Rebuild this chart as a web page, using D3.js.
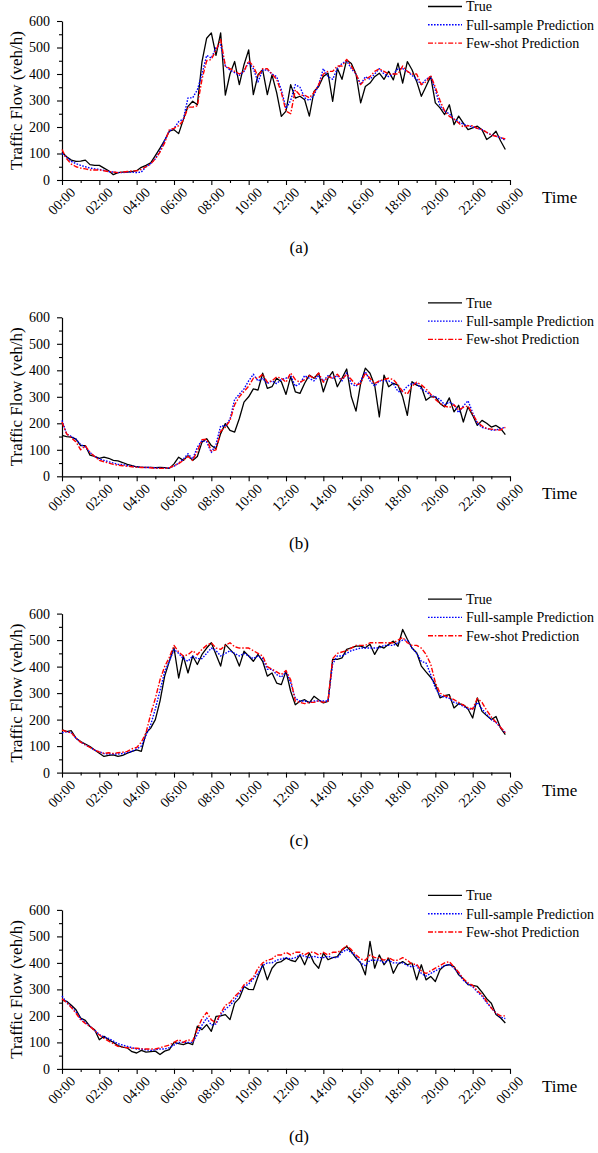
<!DOCTYPE html>
<html>
<head>
<meta charset="utf-8">
<script src="https://cdn.jsdelivr.net/npm/d3@7"></script>
<style>
  body { margin: 0; background: #fff; }
</style>
</head>
<body>
<svg id="chart" width="598" height="1153"></svg>
<script>
// samples every 15 minutes, 00:00 .. 23:45 (value = hour of day)
const hours = d3.range(96).map(i => i / 4);

// (a)
const trueA = [105,88,75,70, 71,75,58,55, 55,45,35,20, 28,30,30,32, 35,48,55,65, 92,120,150,184,
               190,175,228,278, 297,284,447,535, 555,470,555,320, 400,447,360,435, 491,322,397,416,
               322,397,330,240, 260,360,309,316, 303,241,334,353, 391,403,297,422, 380,453,440,400,
               291,353,366,390, 403,380,410,378, 441,366,447,416, 372,316,353,391, 291,272,247,284,
               209,241,215,190, 197,203,190,153, 165,184,147,115];
const fullA = [100,85,70,62, 55,50,45,42, 40,36,32,30, 28,28,30,30, 28,30,50,62, 80,110,150,185,
               195,220,230,310, 310,340,400,470, 460,500,510,430, 415,405,395,410, 445,420,370,415,
               415,400,390,340, 270,300,360,350, 310,300,320,360, 420,390,380,420, 440,450,420,400,
               360,390,380,400, 420,400,390,400, 420,420,410,395, 380,360,380,390, 340,280,260,250,
               230,220,210,205, 200,195,190,180, 170,165,160,150];
const fewA  = [115,80,60,50, 45,42,38,38, 38,35,32,30, 28,30,32,34, 35,40,50,60, 80,105,140,190,
               195,205,225,275, 275,280,380,450, 455,490,530,430, 420,410,400,410, 450,430,390,420,
               420,400,380,330, 260,250,340,320, 320,310,330,360, 400,410,410,430, 430,455,430,400,
               360,380,390,410, 420,410,400,400, 400,430,410,400, 400,360,370,395, 350,300,260,240,
               230,215,200,205, 205,195,190,180, 170,165,160,155];

// (b)
const trueB = [154,150,148,140, 116,116,80,75, 68,72,68,60, 58,52,45,40, 36,34,34,34, 33,34,33,30,
               47,72,60,78, 60,75,129,142, 116,104,161,199, 173,167,218,280, 300,330,325,389,
               332,338,370,357, 309,376,319,313, 351,382,370,389, 319,370,395,338, 370,405,300,246,
               351,408,389,344, 224,382,338,351, 344,300,230,357, 344,338,287,300, 300,275,262,296,
               243,268,205,262, 230,192,211,200, 186,192,180,157];
const fullB = [211,160,150,140, 120,110,90,75, 65,60,55,50, 45,45,40,38, 36,34,33,33, 32,31,30,32,
               38,50,65,85, 65,110,135,130, 90,120,190,190, 215,290,310,330, 360,385,360,370,
               350,360,350,365, 370,380,340,350, 380,370,360,380, 360,380,370,380, 360,390,350,340,
               360,395,360,340, 360,360,360,350, 320,320,340,350, 350,330,320,305, 300,290,270,280,
               270,240,265,285, 240,200,185,180, 175,175,180,185];
const fewB  = [205,160,145,130, 100,115,90,75, 60,55,50,45, 42,40,38,36, 34,33,33,32, 30,30,30,32,
               40,48,60,75, 60,95,138,140, 95,100,170,185, 210,270,300,320, 340,370,370,385,
               355,360,375,370, 355,390,365,355, 365,380,370,390, 355,375,370,385, 365,385,365,345,
               350,390,370,350, 360,365,370,365, 345,320,310,340, 355,345,330,310, 290,275,265,260,
               270,250,260,265, 235,205,190,180, 178,175,175,185];

// (c)
const trueC = [162,155,158,130, 117,108,98,85, 73,61,65,67, 61,65,73,80, 86,80,149,168, 200,270,364,420,
               471,357,440,376, 440,408,446,470, 490,446,402,484, 465,446,402,458, 440,420,446,420,
               364,376,338,332, 383,307,256,269, 275,263,288,275, 263,269,427,427, 433,465,471,477,
               477,471,484,446, 477,470,484,496, 477,540,503,470, 452,402,380,360, 332,282,290,294,
               244,260,256,240, 206,282,231,215, 200,212,168,143];
const fullC = [150,155,150,130, 115,105,95,85, 78,72,70,70, 70,72,76,80, 90,100,140,180, 240,310,380,420,
               465,450,430,420, 440,430,430,450, 470,460,440,450, 460,450,440,450, 440,430,440,430,
               390,390,370,360, 380,340,280,270, 270,265,270,270, 270,270,410,440, 440,450,460,465,
               470,470,470,470, 470,480,480,480, 490,500,500,470, 450,420,414,370, 320,290,285,280,
               265,260,250,240, 240,265,240,220, 200,190,170,150];
const fewC  = [160,155,150,130, 115,105,95,85, 78,72,75,72, 75,77,80,90, 95,115,150,220, 280,350,400,435,
               480,455,440,445, 460,445,465,480, 490,470,465,480, 490,475,470,470, 470,460,450,440,
               400,390,380,370, 385,350,270,265, 260,265,265,270, 265,270,430,450, 455,460,470,480,
               480,480,490,490, 490,490,490,490, 500,510,490,480, 480,470,446,410, 340,300,290,285,
               275,265,255,245, 240,280,265,235, 210,190,170,150];

// (d)
const trueD = [260,255,240,223, 192,183,160,148, 110,123,110,100, 88,82,79,65, 60,70,63,65, 67,54,67,73,
               100,95,92,98, 92,161,148,167, 142,198,200,205, 186,248,267,311, 300,299,349,393,
               336,380,400,405, 418,410,405,430, 393,437,400,380, 437,412,420,424, 449,462,443,418,
               400,355,481,380, 430,393,418,361, 395,405,393,399, 336,393,336,349, 330,374,390,393,
               386,355,340,318, 315,311,290,265, 248,205,192,173];
const fullD = [275,250,235,215, 190,175,160,145, 130,120,115,105, 95,90,85,80, 75,75,72,70, 72,75,75,80,
               90,100,100,100, 100,130,165,192, 165,170,205,225, 240,260,285,310, 320,340,360,390,
               400,400,410,415, 420,415,420,430, 425,420,425,420, 420,425,420,420, 440,450,440,425,
               400,390,410,410, 410,400,410,400, 400,400,390,385, 390,360,350,360, 370,380,390,395,
               380,360,335,320, 310,290,275,250, 230,210,195,190];
const fewD  = [265,250,232,210, 185,172,160,145, 128,115,105,95, 85,82,80,78, 78,76,75,75, 75,80,85,90,
               100,110,100,110, 105,150,190,213, 185,175,210,240, 250,273,290,317, 330,345,380,400,
               410,415,430,430, 440,430,440,440, 430,440,440,430, 440,430,440,440, 450,465,450,430,
               415,410,430,420, 420,410,420,410, 410,420,410,395, 395,370,360,370, 380,390,400,405,
               385,365,340,325, 315,295,280,255, 230,210,200,200];

const captions = ["(a)", "(b)", "(c)", "(d)"];
const seriesNames = ["True", "Full-sample Prediction", "Few-shot Prediction"];
const yTicks = d3.range(0, 601, 50);
const xTicks = d3.range(0, 25);

const panels = [
  [trueA, fullA, fewA],
  [trueB, fullB, fewB],
  [trueC, fullC, fewC],
  [trueD, fullD, fewD]
];

const styles = [
  {color: "#000", dash: null, width: 1.3},
  {color: "#0000ff", dash: "1.6,1.4", width: 1.4},
  {color: "#ff0000", dash: "5,1.8,1.5,1.8", width: 1.4}
];

const FONT = "'Liberation Serif', 'Times New Roman', Times, 'DejaVu Serif', serif";

const svg = d3.select("#chart");
const left = 62, right = 510, plotH = 159;
const x = d3.scaleLinear().domain([0, 24]).range([left, right]);
const fmt = h => String(h % 24).padStart(2, "0") + ":00";

panels.forEach((series, p) => {
  let top = 21 + p * 296.3;
  let y = d3.scaleLinear().domain([0, 600]).range([top + plotH, top]);
  let g = svg.append("g");

  // y axis
  let ya = g.append("g")
    .attr("transform", `translate(${left},0)`)
    .call(d3.axisLeft(y).tickValues(yTicks)
      .tickFormat(d => d % 100 ? "" : d)
      .tickSize(5).tickSizeOuter(0).tickPadding(7));
  ya.selectAll(".tick line").attr("x2", d => d % 100 ? -3 : -5);
  ya.selectAll("text").style("font-size", "14px");

  // x axis
  let xa = g.append("g")
    .attr("transform", `translate(0,${top + plotH})`)
    .call(d3.axisBottom(x).tickValues(xTicks)
      .tickFormat(d => d % 2 ? "" : fmt(d))
      .tickSize(5).tickSizeOuter(0));
  xa.selectAll(".tick line").attr("y2", d => d % 2 ? 3 : 5);
  xa.selectAll("text")
    .style("font-size", "14px")
    .attr("text-anchor", "middle")
    .attr("y", 0).attr("dy", "0.35em")
    .attr("transform", "translate(-1,21) rotate(-45)");
  g.selectAll(".domain").attr("stroke-width", 1.2);
  g.selectAll(".tick line").attr("stroke-width", 1.1);

  // lines
  let line = d3.line().x((d, i) => x(hours[i])).y(d => y(d));
  series.forEach((vals, s) => {
    g.append("path")
      .datum(vals)
      .attr("fill", "none")
      .attr("stroke", styles[s].color)
      .attr("stroke-width", styles[s].width)
      .attr("stroke-dasharray", styles[s].dash)
      .attr("stroke-linejoin", "round")
      .attr("d", line);
  });

  // axis titles
  g.append("text")
    .attr("transform", `translate(22,${top + plotH / 2}) rotate(-90)`)
    .attr("text-anchor", "middle")
    .style("font-size", "17px")
    .text("Traffic Flow (veh/h)");
  g.append("text")
    .attr("x", 542).attr("y", top + plotH + 23)
    .style("font-size", "17px")
    .text("Time");
  g.append("text")
    .attr("x", 299).attr("y", top + plotH + 73)
    .attr("text-anchor", "middle")
    .style("font-size", "17px")
    .text(captions[p]);

  // legend
  seriesNames.forEach((name, s) => {
    let ly = top - 14.5 + s * 18.3;
    g.append("line")
      .attr("x1", 428).attr("x2", 462).attr("y1", ly).attr("y2", ly)
      .attr("stroke", styles[s].color)
      .attr("stroke-width", styles[s].width)
      .attr("stroke-dasharray", styles[s].dash);
    g.append("text")
      .attr("x", 466).attr("y", ly).attr("dy", "0.35em")
      .style("font-size", "14px")
      .text(name);
  });
});

svg.selectAll("text").style("font-family", FONT).attr("fill", "#000");
</script>
</body>
</html>
